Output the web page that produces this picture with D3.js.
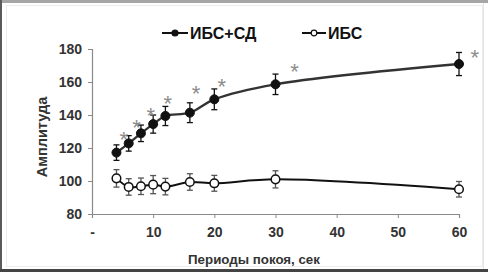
<!DOCTYPE html>
<html><head><meta charset="utf-8">
<script src="https://cdn.jsdelivr.net/npm/d3@7"></script>
<style>html,body{margin:0;padding:0;background:#fff;}svg{display:block;}</style>
</head><body>
<svg id="c" width="488" height="272"></svg>
<script>
const periods = [4, 6, 8, 10, 12, 16, 20, 30, 60];
const ibsSd = [117.2, 122.8, 128.9, 134.5, 139.4, 141.4, 149.5, 158.6, 170.9];
const ibsSdErr = [4.7, 4.7, 5.0, 5.5, 5.8, 6.0, 6.3, 6.2, 7.0];
const ibs = [101.6, 96.4, 96.8, 97.8, 96.6, 99.4, 98.6, 101.0, 95.0];
const ibsErr = [5.3, 5.0, 5.0, 5.5, 5.0, 5.0, 4.8, 5.2, 4.7];
const starX = [5.2, 7.3, 9.6, 12.4, 17.0, 21.2, 33.1, 62.6];
const starY = [127.9, 135.6, 142.6, 149.7, 155.8, 160.6, 169.3, 177.8];
const xTicks = [0, 10, 20, 30, 40, 50, 60];
const xTickLabels = ["-", "10", "20", "30", "40", "50", "60"];
const yTicks = [80, 100, 120, 140, 160, 180];
const seriesNames = ["ИБС+СД", "ИБС"];
const xTitle = "Периоды покоя, сек";
const yTitle = "Амплитуда";

const svg = d3.select("#c");
const font = "'Liberation Sans', Arial, sans-serif";

// frame
svg.append("rect").attr("x",0).attr("y",0).attr("width",488).attr("height",272).attr("fill","#fff");
svg.append("rect").attr("x",6.5).attr("y",5.5).attr("width",476).attr("height",261).attr("fill","none").attr("stroke","#ececec");
svg.append("rect").attr("x",0).attr("y",0).attr("width",488).attr("height",3).attr("fill","#a6a6a6");
svg.append("rect").attr("x",0).attr("y",0).attr("width",2).attr("height",272).attr("fill","#5a5a5a");
svg.append("rect").attr("x",0).attr("y",269).attr("width",488).attr("height",3).attr("fill","#444");
svg.append("rect").attr("x",483).attr("y",3).attr("width",1).attr("height",266).attr("fill","#e4e4e4");

const x = d3.scaleLinear().domain([0, 60]).range([92, 459]);
const y = d3.scaleLinear().domain([80, 180]).range([214, 49]);

// axes
const yAxis = svg.append("g").attr("transform","translate(92,0)")
  .call(d3.axisLeft(y).tickValues(yTicks).tickSize(4).tickPadding(6).tickFormat(d3.format("d")));
const xAxis = svg.append("g").attr("transform","translate(0,214)")
  .call(d3.axisBottom(x).tickValues(xTicks).tickSize(4).tickPadding(6).tickFormat((d,i)=>xTickLabels[i]));
[yAxis, xAxis].forEach(g => {
  g.select(".domain").attr("stroke","#8a8a8a").attr("stroke-width",1.2);
  g.selectAll(".tick line").attr("stroke","#8a8a8a");
  g.selectAll("text").attr("font-family",font).attr("font-size",14).attr("font-weight","bold").attr("fill","#333");
});
xAxis.selectAll("text").attr("dy","0.95em");

// titles
svg.append("text").attr("x",254).attr("y",264).attr("text-anchor","middle")
  .attr("font-family",font).attr("font-size",13.3).attr("font-weight","bold").attr("fill","#333").text(xTitle);
svg.append("text").attr("transform","translate(47,137) rotate(-90)").attr("text-anchor","middle")
  .attr("font-family",font).attr("font-size",14.5).attr("font-weight","bold").attr("fill","#333").text(yTitle);

const line = d3.line().curve(d3.curveCatmullRom.alpha(0.5)).x(d=>x(d[0])).y(d=>y(d[1]));

function drawSeries(vals, errs, filled, lineColor, errColor) {
  const pts = periods.map((p,i)=>[p, vals[i]]);
  const g = svg.append("g");
  pts.forEach((d,i)=>{
    const cx = x(d[0]), t = y(d[1]+errs[i]), b = y(d[1]-errs[i]);
    g.append("line").attr("x1",cx).attr("x2",cx).attr("y1",t).attr("y2",b).attr("stroke",errColor).attr("stroke-width",1.3);
    [t,b].forEach(yy=>g.append("line").attr("x1",cx-3).attr("x2",cx+3).attr("y1",yy).attr("y2",yy).attr("stroke",errColor).attr("stroke-width",1.3));
  });
  g.append("path").datum(pts).attr("d",line).attr("fill","none").attr("stroke",lineColor).attr("stroke-width",filled?2.3:2);
  g.selectAll("circle").data(pts).enter().append("circle")
    .attr("cx",d=>x(d[0])).attr("cy",d=>y(d[1])).attr("r",filled?4.5:4.3)
    .attr("fill",filled?"#111":"#fff").attr("stroke","#111").attr("stroke-width",filled?1:1.5);
}
drawSeries(ibs, ibsErr, false, "#111", "#555");
drawSeries(ibsSd, ibsSdErr, true, "#333", "#111");

// significance asterisks
svg.append("g").selectAll("text").data(starX).enter().append("text")
  .attr("x",(d)=>x(d)).attr("y",(d,i)=>y(starY[i])+12.5).attr("text-anchor","middle")
  .attr("font-family",font).attr("font-size",22).attr("font-weight","normal").attr("fill","#8c8c8c").text("*");

// legend
const leg = [{x0:162, x1:188, filled:true, name:seriesNames[0]}, {x0:302, x1:326, filled:false, name:seriesNames[1]}];
leg.forEach(l=>{
  const yy = 33;
  svg.append("line").attr("x1",l.x0).attr("x2",l.x1).attr("y1",yy).attr("y2",yy).attr("stroke","#111").attr("stroke-width",2);
  svg.append("circle").attr("cx",(l.x0+l.x1)/2).attr("cy",yy).attr("r",l.filled?3:2.8)
    .attr("fill",l.filled?"#111":"#fff").attr("stroke","#111").attr("stroke-width",1.2);
  svg.append("text").attr("x",l.x1+2).attr("y",yy+5.5).attr("font-family",font).attr("font-size",16)
    .attr("font-weight","bold").attr("fill","#111").text(l.name);
});
</script>
</body></html>
